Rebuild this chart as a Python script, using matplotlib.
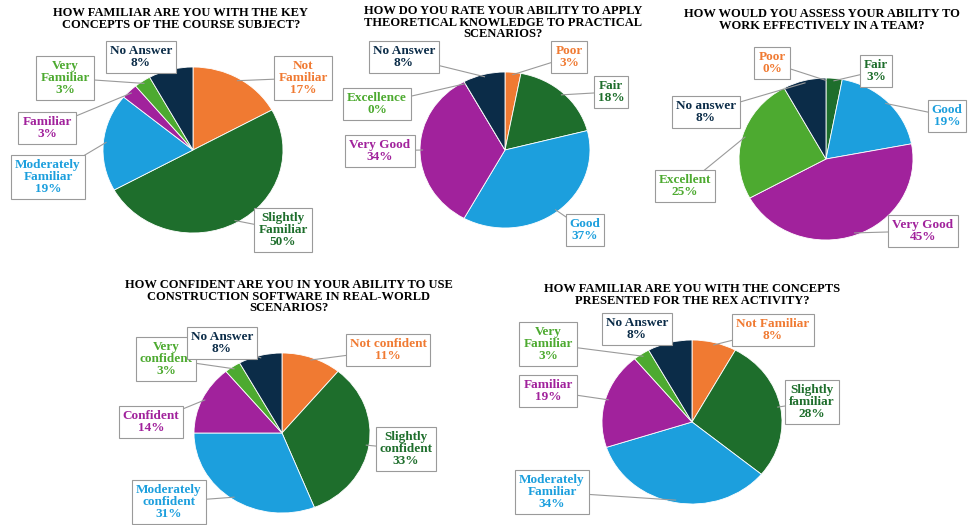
import numpy as np
import matplotlib.pyplot as plt

W, H = 969, 525

orange = '#F07A32'
dgreen = '#1E6E2C'
blue = '#1C9FDD'
magenta = '#A1229C'
lgreen = '#4DAA30'
navy = '#0B2C48'

# Q1
q1_title = 'HOW FAMILIAR ARE YOU WITH THE KEY\nCONCEPTS OF THE COURSE SUBJECT?'
q1_labels = ['Not\nFamiliar', 'Slightly\nFamiliar', 'Moderately\nFamiliar', 'Familiar', 'Very\nFamiliar', 'No Answer']
q1_values = [17, 50, 19, 3, 3, 8]

# Q2
q2_title = 'HOW DO YOU RATE YOUR ABILITY TO APPLY\nTHEORETICAL KNOWLEDGE TO PRACTICAL\nSCENARIOS?'
q2_labels = ['Poor', 'Fair', 'Good', 'Very Good', 'Excellence', 'No Answer']
q2_values = [3, 18, 37, 34, 0, 8]

# Q3
q3_title = 'HOW WOULD YOU ASSESS YOUR ABILITY TO\nWORK EFFECTIVELY IN A TEAM?'
q3_labels = ['Poor', 'Fair', 'Good', 'Very Good', 'Excellent', 'No answer']
q3_values = [0, 3, 19, 45, 25, 8]

# Q4
q4_title = 'HOW CONFIDENT ARE YOU IN YOUR ABILITY TO USE\nCONSTRUCTION SOFTWARE IN REAL-WORLD\nSCENARIOS?'
q4_labels = ['Not confident', 'Slightly\nconfident', 'Moderately\nconfident', 'Confident', 'Very\nconfident', 'No Answer']
q4_values = [11, 33, 31, 14, 3, 8]

# Q5
q5_title = 'HOW FAMILIAR ARE YOU WITH THE CONCEPTS\nPRESENTED FOR THE REX ACTIVITY?'
q5_labels = ['Not Familiar', 'Slightly\nfamiliar', 'Moderately\nFamiliar', 'Familiar', 'Very\nFamiliar', 'No Answer']
q5_values = [8, 28, 34, 19, 3, 8]

# same colour order in every chart
slice_colors = [orange, dgreen, blue, magenta, lgreen, navy]

# layout in pixels: title (x, y), pie centre, radii, label box centres
charts = [
    dict(title=q1_title, labels=q1_labels, values=q1_values,
         tpos=(181, 7), c=(193, 150), r=(90, 83),
         lpos=[(303, 78), (283, 230), (48, 177), (47, 128), (65, 78), (141, 57)]),
    dict(title=q2_title, labels=q2_labels, values=q2_values,
         tpos=(503, 5), c=(505, 150), r=(85, 78),
         lpos=[(569, 57), (611, 92), (585, 230), (380, 151), (377, 104), (404, 57)]),
    dict(title=q3_title, labels=q3_labels, values=q3_values,
         tpos=(822, 8), c=(826, 159), r=(87, 81),
         lpos=[(772, 63), (876, 71), (947, 116), (923, 231), (685, 186), (706, 112)]),
    dict(title=q4_title, labels=q4_labels, values=q4_values,
         tpos=(289, 279), c=(282, 433), r=(88, 80),
         lpos=[(388, 350), (406, 449), (169, 502), (151, 422), (166, 359), (222, 343)]),
    dict(title=q5_title, labels=q5_labels, values=q5_values,
         tpos=(692, 283), c=(692, 422), r=(90, 82),
         lpos=[(773, 330), (812, 402), (552, 492), (548, 391), (548, 344), (637, 329)]),
]

fig = plt.figure(figsize=(W / 100, H / 100), dpi=100)
font = 'Liberation Serif'

for ch in charts:
    cx, cy = ch['c']
    rx, ry = ch['r']
    ax = fig.add_axes([(cx - rx) / W, 1 - (cy + ry) / H, 2 * rx / W, 2 * ry / H])
    ax.pie(ch['values'], colors=slice_colors, startangle=90, counterclock=False,
           wedgeprops=dict(edgecolor='white', linewidth=0.6))
    ax.set_aspect('auto')
    ax.set_xlim(-1, 1)
    ax.set_ylim(-1, 1)
    ax.axis('off')

# overlay in pixel coordinates for titles, labels and leader lines
ov = fig.add_axes([0, 0, 1, 1])
ov.set_xlim(0, W)
ov.set_ylim(H, 0)
ov.axis('off')
ov.patch.set_alpha(0)

for ch in charts:
    cx, cy = ch['c']
    rx, ry = ch['r']
    ov.text(ch['tpos'][0], ch['tpos'][1], ch['title'], ha='center', va='top',
            fontsize=9, fontweight='bold', family=font, linespacing=0.95)
    total = sum(ch['values'])
    cum = 0
    for lab, v, col, (lx, ly) in zip(ch['labels'], ch['values'], slice_colors, ch['lpos']):
        f = (cum + v / 2) / total
        cum += v
        th = np.pi / 2 - 2 * np.pi * f
        px = cx + 0.97 * rx * np.cos(th)
        py = cy - 0.97 * ry * np.sin(th)
        ov.plot([lx, px], [ly, py], color='#9a9a9a', lw=0.8, zorder=2)
        ov.text(lx, ly, f'{lab}\n{v}%', ha='center', va='center', fontsize=9.5,
                fontweight='bold', family=font, color=col, linespacing=0.95, zorder=3,
                bbox=dict(boxstyle='square,pad=0.3', fc='white', ec='#9a9a9a', lw=0.8))

fig.savefig('out.png', dpi=100)
